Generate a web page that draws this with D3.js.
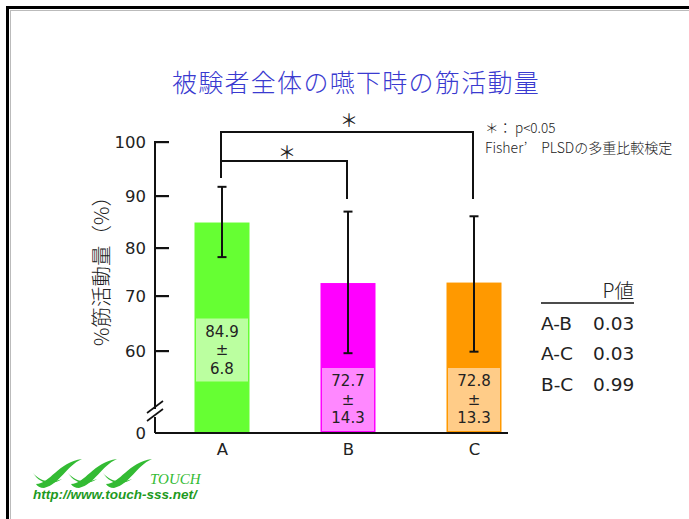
<!DOCTYPE html>
<html><head><meta charset="utf-8">
<script src="https://cdn.jsdelivr.net/npm/d3@7"></script>
<style>html,body{margin:0;padding:0;background:#fff;}svg{display:block;}</style>
</head><body>
<script>
const categories = ["A","B","C"];
const means = [84.9, 72.7, 72.8];
const sds = [6.8, 14.3, 13.3];
const tickValues = [0, 60, 70, 80, 90, 100];
const pLabels = ["A-B","A-C","B-C"];
const pValues = ["0.03","0.03","0.99"];
const barColors = ["#66ff33","#ff00ff","#ff9900"];
const boxColors = ["#bbffa0","#ff88ff","#ffcc88"];

const W = 689, H = 519;
const jp = "'Noto Sans CJK JP', sans-serif";
const num = "'DejaVu Sans', sans-serif";
const svg = d3.select("body").append("svg").attr("width", W).attr("height", H);

// frame
svg.append("rect").attr("x",7.5).attr("y",7.5).attr("width",720).attr("height",540)
  .attr("fill","none").attr("stroke","#000").attr("stroke-width",3);
svg.append("rect").attr("x",10.5).attr("y",10.5).attr("width",720).attr("height",540)
  .attr("fill","none").attr("stroke","#bbb").attr("stroke-width",1);

// title
svg.append("text").attr("x",356).attr("y",81).attr("text-anchor","middle")
  .attr("dominant-baseline","central").attr("font-family",jp).attr("font-size",25)
  .attr("letter-spacing","1.3").attr("font-weight",300)
  .attr("fill","#3a3ad0").text("被験者全体の嚥下時の筋活動量");

// scales
const y = d3.scaleLinear().domain(tickValues).range([433, 351, 296, 248, 196, 142]);
const x = d3.scalePoint().domain(categories).range([222, 474]);
const barW = 55;
const axisX = 155, baseY = 433;

// bars
svg.selectAll("rect.bar").data(categories).join("rect").attr("class","bar")
  .attr("x", d => x(d) - barW/2).attr("width", barW)
  .attr("y", (d,i) => y(means[i])).attr("height", (d,i) => baseY - y(means[i]))
  .attr("fill", (d,i) => barColors[i]);

// value boxes
const boxCenters = [349.5, 399, 399];
categories.forEach((c,i) => {
  const cx = x(c), cy = boxCenters[i];
  svg.append("rect").attr("x", cx - 26).attr("y", cy - 31).attr("width", 52).attr("height", 63)
    .attr("fill", boxColors[i]);
  const lines = [d3.format(".1f")(means[i]), "±", d3.format(".1f")(sds[i])];
  lines.forEach((t,k) => {
    svg.append("text").attr("x", cx).attr("y", cy - 18 + k*18.7)
      .attr("text-anchor","middle").attr("dominant-baseline","central")
      .attr("font-family",num).attr("font-size",15).attr("fill","#222").text(t);
  });
});

// error bars
categories.forEach((c,i) => {
  const cx = x(c), top = y(means[i] + sds[i]), bot = y(means[i] - sds[i]);
  const g = svg.append("g").attr("stroke","#111").attr("stroke-width",2);
  g.append("line").attr("x1",cx).attr("x2",cx).attr("y1",top).attr("y2",bot);
  g.append("line").attr("x1",cx-4.5).attr("x2",cx+4.5).attr("y1",top).attr("y2",top);
  g.append("line").attr("x1",cx-4.5).attr("x2",cx+4.5).attr("y1",bot).attr("y2",bot);
});

// y axis
const yAxis = d3.axisLeft(y).tickValues(tickValues).tickSize(0).tickPadding(9)
  .tickFormat(d3.format("d"));
const gy = svg.append("g").attr("transform",`translate(${axisX},0)`).call(yAxis);
gy.select(".domain").attr("stroke","#111").attr("stroke-width",2).attr("d",`M0,142V${baseY}`);
gy.selectAll(".tick text").attr("font-family",num).attr("font-size",16.5).attr("fill","#222")
  .attr("dy","0.35em");
// inward tick marks
tickValues.filter(d => d > 0).forEach(d => {
  svg.append("rect").attr("x", axisX - 1).attr("y", y(d) - 1).attr("width", 15).attr("height", 2.2)
    .attr("fill", "#111");
});
// axis break
svg.append("rect").attr("x",axisX-3).attr("y",409).attr("width",6).attr("height",8).attr("fill","#fff");
[405, 413].forEach(yy => {
  svg.append("line").attr("x1",axisX-8).attr("y1",yy+8).attr("x2",axisX+8).attr("y2",yy-4)
    .attr("stroke","#111").attr("stroke-width",1.6);
});

// x axis
const xAxis = d3.axisBottom(x).tickSize(0).tickPadding(10);
const gx = svg.append("g").attr("transform",`translate(0,${baseY})`).call(xAxis);
gx.select(".domain").attr("stroke","#111").attr("stroke-width",2).attr("d",`M${axisX},0H508`);
gx.selectAll(".tick text").attr("font-family",num).attr("font-size",16.5).attr("fill","#222");

// y label
svg.append("text").attr("transform","translate(100,266) rotate(-90)")
  .attr("text-anchor","middle").attr("dominant-baseline","central")
  .attr("font-family",jp).attr("font-size",20.5).attr("font-weight",300)
  .attr("fill","#222").text("%筋活動量（%）");

// significance brackets
const br = svg.append("g").attr("fill","none").attr("stroke","#111").attr("stroke-width",2);
br.append("path").attr("d",`M${x("A")-1},178V132H${x("C")-1}V199`);
br.append("path").attr("d",`M${x("A")-1},161H${x("B")-1}V199`);
svg.append("text").attr("x",(x("A")+x("C"))/2+1).attr("y",119).attr("text-anchor","middle")
  .attr("dominant-baseline","central").attr("font-family",jp).attr("font-size",18)
  .attr("fill","#222").text("＊");
svg.append("text").attr("x",(x("A")+x("B"))/2+2).attr("y",151).attr("text-anchor","middle")
  .attr("dominant-baseline","central").attr("font-family",jp).attr("font-size",18)
  .attr("fill","#222").text("＊");

// annotation
svg.append("text").attr("x",485).attr("y",133).attr("font-family",jp).attr("font-size",13.5)
  .attr("font-weight",300).attr("fill","#222").text("＊： p<0.05");
svg.append("text").attr("x",485).attr("y",153).attr("font-family",jp).attr("font-size",14)
  .attr("font-weight",300).attr("fill","#222").text("Fisher’　PLSDの多重比較検定");

// p value table
svg.append("text").attr("x",634).attr("y",298).attr("text-anchor","end")
  .attr("font-family",jp).attr("font-size",19.5).attr("font-weight",300).attr("fill","#222").text("P値");
svg.append("line").attr("x1",541).attr("x2",634).attr("y1",303).attr("y2",303)
  .attr("stroke","#111").attr("stroke-width",1.6);
pLabels.forEach((l,i) => {
  const yy = 330 + i*30.3;
  svg.append("text").attr("x",541).attr("y",yy).attr("font-family",num).attr("font-size",18.5)
    .attr("fill","#222").text(l);
  svg.append("text").attr("x",593).attr("y",yy).attr("font-family",num).attr("font-size",18.5)
    .attr("fill","#222").text(pValues[i]);
});

// logo
const logo = svg.append("g").attr("fill","#33bb33");
[36, 71, 106].forEach(ox => {
  logo.append("path").attr("d",
    `M${ox},484 C${ox+14},484 ${ox+22},462 ${ox+46},459 C${ox+30},466 ${ox+24},484 ${ox+8},488 C${ox+4},488 ${ox+1},486 ${ox},484 Z`);
  logo.append("path").attr("d",
    `M${ox-3},473 C${ox+4},481 ${ox+14},484 ${ox+26},479 C${ox+16},486 ${ox+4},484 ${ox-3},473 Z`);
});
svg.append("text").attr("x",150).attr("y",484).attr("font-family","'Liberation Serif', serif")
  .attr("font-style","italic").attr("font-size",15).attr("fill","#33bb33").text("TOUCH");
svg.append("text").attr("x",33).attr("y",499).attr("font-family","'Liberation Sans', Arial, sans-serif")
  .attr("font-style","italic").attr("font-weight","bold").attr("font-size",13.5)
  .attr("fill","#1e9a1e").text("http://www.touch-sss.net/");
</script>
</body></html>
